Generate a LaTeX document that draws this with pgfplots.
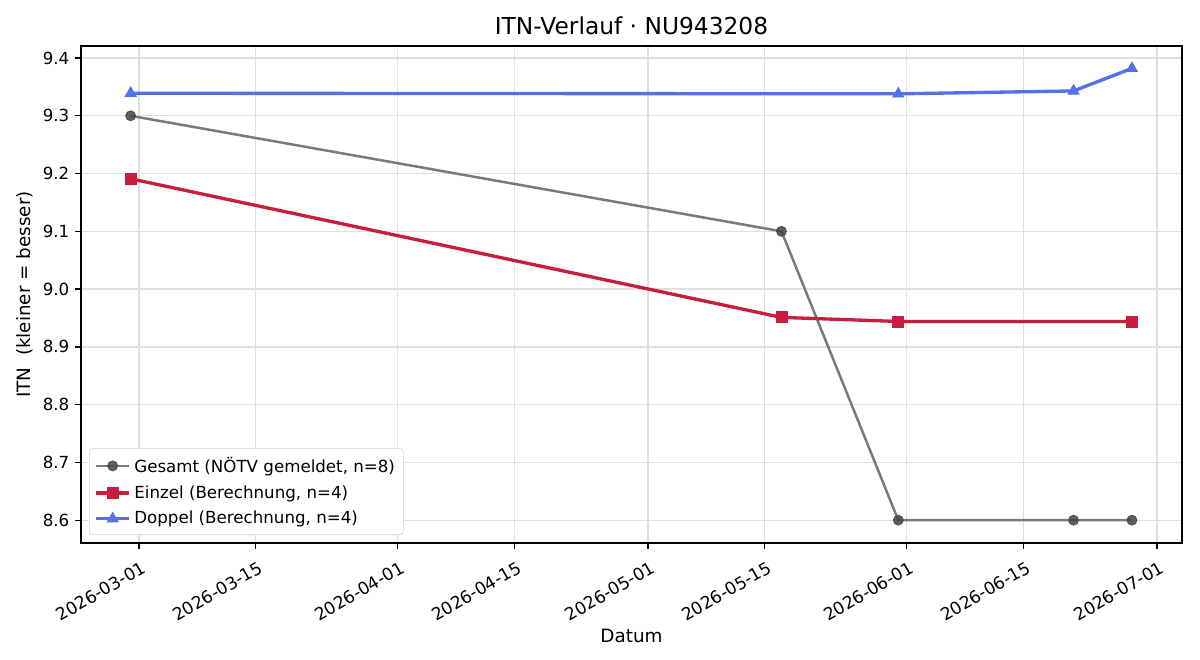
\documentclass[border=0pt]{standalone}
\usepackage{pgfplots}
\pgfplotsset{compat=1.18}
\usepackage{fontspec}
\setmainfont{DejaVu Sans}
\definecolor{gline}{RGB}{122,122,122}
\definecolor{gmark}{RGB}{68,68,68}
\definecolor{einzel}{RGB}{200,30,62}
\definecolor{doppel}{RGB}{84,112,238}
\begin{document}
\begin{tikzpicture}
\useasboundingbox (-48.6pt,-70.2pt) rectangle (671.4pt,325.8pt);
\begin{axis}[
  scale only axis,
  width=660.6pt, height=298.2pt,
  xmin=-6.95, xmax=125.0,
  ymin=8.5605, ymax=9.4208,
  xtick={0,14,31,45,61,75,92,106,122},
  xticklabels={2026-03-01,2026-03-15,2026-04-01,2026-04-15,2026-05-01,2026-05-15,2026-06-01,2026-06-15,2026-07-01},
  xticklabel style={rotate=30, anchor=north east, inner sep=1pt, xshift=-1.5pt, yshift=-5.5pt, font=\fontsize{10.3pt}{12pt}\selectfont},
  ytick={8.6,8.7,8.8,8.9,9.0,9.1,9.2,9.3,9.4},
  yticklabel style={font=\fontsize{10pt}{12pt}\selectfont},
  /pgf/number format/.cd, fixed, fixed zerofill, precision=1, assume math mode=true,
  /pgfplots/.cd,
  tick align=outside,
  major tick length=3.5pt,
  tick style={black, line width=0.8pt},
  xtick pos=bottom, ytick pos=left,
  grid=major,
  major grid style={color=black!12, line width=0.8pt},
  axis line style={line width=0.8pt},
  title={ITN-Verlauf · NU943208},
  title style={font=\fontsize{14pt}{16pt}\selectfont, yshift=-3pt},
  xlabel={Datum},
  ylabel={ITN\ \ (kleiner = besser)},
  label style={font=\fontsize{11pt}{13pt}\selectfont},
  xlabel style={yshift=0.5pt},
  ylabel style={yshift=-1pt},
  legend style={at={(0.0073,0.016)}, anchor=south west, font=\fontsize{10pt}{12pt}\selectfont,
    draw=black!18, rounded corners=2pt, row sep=2.4pt, inner sep=3pt},
  legend cell align=left,
  legend image code/.code={
    \draw[mark repeat=2,mark phase=2] plot coordinates {(0pt,0pt) (10pt,0pt) (20pt,0pt)};
  },
]
\addplot[color=gline, line width=1.5pt, mark=*, mark size=3pt,
  mark options={fill=gmark, draw=gmark, line width=0.5pt, fill opacity=0.85, draw opacity=0.85}]
  coordinates {(-1,9.3) (77,9.1) (91,8.6) (112,8.6) (119,8.6)};
\addlegendentry{Gesamt (NÖTV gemeldet, n=8)}
\addplot[color=einzel, line width=2pt, mark=square*, mark size=3.3pt,
  mark options={line width=0.5pt}]
  coordinates {(-1,9.191) (77,8.951) (91,8.944) (119,8.944)};
\addlegendentry{Einzel (Berechnung, n=4)}
\addplot[color=doppel, line width=2pt, mark=triangle*, mark size=3.8pt,
  mark options={line width=0.5pt}]
  coordinates {(-1,9.339) (91,9.338) (112,9.343) (119,9.382)};
\addlegendentry{Doppel (Berechnung, n=4)}
\end{axis}
\end{tikzpicture}
\end{document}
